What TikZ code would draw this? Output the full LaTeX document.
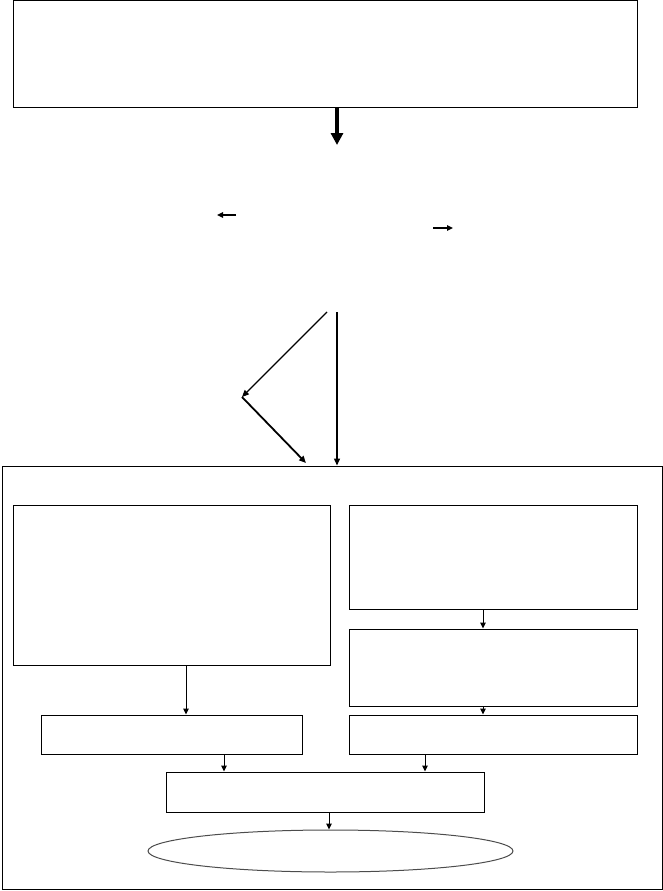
\documentclass[tikz,border=0pt]{standalone}
\usepackage{tikz}
\usetikzlibrary{arrows.meta, positioning, shapes.geometric, calc}

\begin{document}
\begin{tikzpicture}[
  x=1pt, y=-1pt,
  box/.style={rectangle, draw, line width=1pt, inner sep=0pt},
  oval/.style={ellipse, draw=black!70, line width=1pt, inner sep=0pt},
  arr/.style={-{Triangle[length=6pt, width=5.5pt]}, line width=1pt},
  bigarr/.style={-{Triangle[length=12pt, width=12pt]}, line width=3.5pt},
  diag/.style={-{Triangle[length=7pt, width=6pt]}, line width=1.4pt}
]
\useasboundingbox (0,0) rectangle (663,891);
%% top block
\node[box, minimum width=624pt, minimum height=106pt] (top) at (325, 54) {};
\coordinate (t_end) at (337, 145);
\draw[bigarr] (top.south -| t_end) -- (t_end);
%% side arrows (middle band)
\coordinate (la_s) at (236, 215);
\coordinate (la_e) at (217, 215);
\coordinate (ra_s) at (433, 228);
\coordinate (ra_e) at (453, 228);
\draw[arr, line width=1.6pt] (la_s) -- (la_e);
\draw[arr, line width=1.6pt] (ra_s) -- (ra_e);
%% outer frame
\node[box, minimum width=660pt, minimum height=423pt] (outer) at (332, 677.5) {};
%% branching arrows into the frame
\coordinate (d_start) at (327, 312);
\coordinate (d_bend)  at (242, 397);
\coordinate (d_end)   at (306, 463);
\coordinate (v_start) at (337, 312);
\draw[diag, line width=1.2pt] (d_start) -- (d_bend);
\draw[diag, line width=1.8pt] (d_bend) -- (d_end);
\draw[diag] (v_start) -- (v_start |- outer.north);
%% inner blocks
\node[box, minimum width=317pt, minimum height=160pt] (bigL) at (171.5, 585) {};
\node[box, minimum width=288pt, minimum height=104pt] (rTop) at (493, 557) {};
\node[box, minimum width=288pt, minimum height=77pt]  (rMid) at (493, 667.5) {};
\node[box, minimum width=261pt, minimum height=39pt]  (bL)   at (171.5, 734.5) {};
\node[box, minimum width=288pt, minimum height=39pt]  (bR)   at (493, 734.5) {};
\node[box, minimum width=318pt, minimum height=40pt]  (mid)  at (325, 792) {};
\node[oval, minimum width=365pt, minimum height=42pt] (ell)  at (330.5, 851) {};
%% arrows
\draw[arr] ($(bigL.south)+(14.5,0)$) -- ($(bL.north)+(14.5,0)$);
\draw[arr] ($(rTop.south)+(-10,0)$) -- ($(rMid.north)+(-10,0)$);
\draw[arr] ($(rMid.south)+(-10,0)$) -- ($(bR.north)+(-10,0)$);
\draw[arr] ($(bL.south)+(52.5,0)$) -- ($(mid.north)+(-101,0)$);
\draw[arr] ($(bR.south)+(-68,0)$) -- ($(mid.north)+(100,0)$);
\draw[arr] ($(mid.south)+(4,0)$) -- ($(ell.north)+(-1.5,0)$);
\end{tikzpicture}
\end{document}
